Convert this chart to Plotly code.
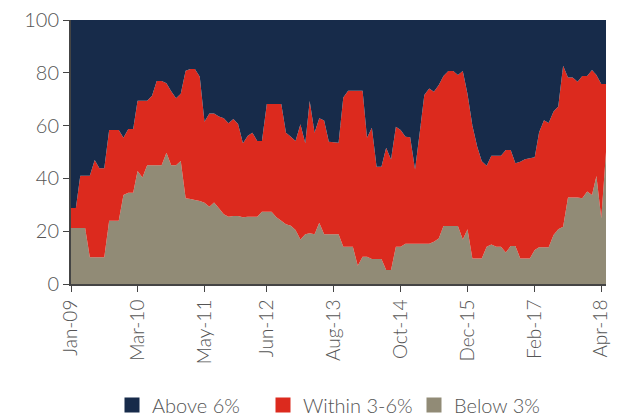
import plotly.graph_objects as go
import pandas as pd

# monthly shares (%), Jan-09 .. May-18
below_3 = [21.2, 21.2, 21.2, 21.2, 10.1, 10.1, 10.1, 10.1, 24, 24, 24, 33.7, 34.6, 34.6, 42.8, 40.3,
           45, 45, 45, 45, 49.7, 45, 45, 46.6, 32.5, 32.2, 31.8, 31.4, 30.8, 29.3, 30.9, 28.7,
           26.4, 25.5, 25.8, 25.8, 25.3, 25.5, 25.5, 25.5, 27.4, 27.4, 27.4, 25.3, 24, 22.6, 22.1, 20.5,
           16.9, 18.8, 19.2, 18.8, 23.2, 18.8, 18.8, 18.8, 18.8, 14.1, 14.1, 14.1, 6.9, 10.3,
           10.3, 9.5, 9.5, 9.5, 5.3, 5.3, 14.1, 14.1, 15.2, 15.2, 15.2, 15.2, 15.2, 15.2, 16, 17.2,
           22, 22, 22, 22, 16.9, 20.7, 9.7, 9.7, 9.7, 14.1, 15, 14.1, 14.1, 11.9, 14.4, 14.4,
           9.7, 9.7, 9.7, 12.9, 13.9, 13.9, 13.9, 18.6, 20.7, 21.7, 32.8, 32.8, 32.8, 32.5, 35, 33.7,
           40.9, 24.9, 50]
within_3_6 = [7.6, 7.6, 19.8, 19.8, 30.9, 36.9, 33.7, 33.7, 34.3, 34.3, 34.3, 21.7, 24.1, 24.1, 26.6, 29.1,
              24.4, 26.3, 31.9, 31.9, 26.3, 28.0, 25.4, 25.5, 48.3, 49.2, 49.6, 47.1, 30.7, 35.3, 33.7, 34.7,
              36.4, 35.4, 36.7, 34.8, 28.0, 30.7, 31.8, 28.7, 26.8, 40.8, 40.8, 42.9, 44.2, 34.7, 33.7, 33.7,
              43.6, 34.5, 50.1, 38.5, 39.6, 43.1, 35.1, 34.9, 34.7, 56.5, 59.1, 59.1, 66.3, 62.9,
              45.1, 49.7, 34.9, 34.9, 46.3, 41.9, 45.5, 44.2, 40.6, 40.4, 28.2, 42.8, 56.4, 58.9, 56.8, 58.2,
              56.8, 58.7, 58.7, 57.2, 63.8, 51.3, 50.3, 42.3, 36.8, 30.7, 33.6, 34.5, 34.5, 38.9, 36.4, 31.3,
              36.6, 37.6, 37.9, 35.1, 43.6, 48.1, 47.1, 46.7, 46.5, 61.0, 45.4, 45.4, 43.8, 46.3, 43.8, 47.4,
              38.3, 50.9, 25.8]
above_6 = [71.2, 71.2, 59, 59, 59, 53, 56.2, 56.2, 41.7, 41.7, 41.7, 44.6, 41.3, 41.3, 30.6, 30.6,
           30.6, 28.7, 23.1, 23.1, 24, 27, 29.6, 27.9, 19.2, 18.6, 18.6, 21.5, 38.5, 35.4, 35.4, 36.6,
           37.2, 39.1, 37.5, 39.4, 46.7, 43.8, 42.7, 45.8, 45.8, 31.8, 31.8, 31.8, 31.8, 42.7, 44.2, 45.8,
           39.5, 46.7, 30.7, 42.7, 37.2, 38.1, 46.1, 46.3, 46.5, 29.4, 26.8, 26.8, 26.8, 26.8,
           44.6, 40.8, 55.6, 55.6, 48.4, 52.8, 40.4, 41.7, 44.2, 44.4, 56.6, 42, 28.4, 25.9, 27.2, 24.6,
           21.2, 19.3, 19.3, 20.8, 19.3, 28, 40, 48, 53.5, 55.2, 51.4, 51.4, 51.4, 49.2, 49.2, 54.3,
           53.7, 52.7, 52.4, 52, 42.5, 38, 39, 34.7, 32.8, 17.3, 21.8, 21.8, 23.4, 21.2, 21.2, 18.9,
           20.8, 24.2, 24.2]

tick_dates = ["2009-01-01", "2010-03-01", "2011-05-01", "2012-06-01", "2013-08-01",
              "2014-10-01", "2015-12-01", "2017-02-01", "2018-04-01"]
tick_labels = ["Jan-09", "Mar-10", "May-11", "Jun-12", "Aug-13", "Oct-14", "Dec-15", "Feb-17", "Apr-18"]

names = ["Below 3%", "Within 3-6%", "Above 6%"]
colors = ["#918B76", "#DC2A1E", "#172B4A"]

dates = pd.date_range("2009-01-01", periods=len(below_3), freq="MS")

fig = go.Figure()
for vals, name, col in zip([below_3, within_3_6, above_6], names, colors):
    fig.add_trace(go.Scatter(x=dates, y=vals, name=name, stackgroup="one", mode="none",
                             fillcolor=col, showlegend=False))

# square legend keys, Above first
for name, col in reversed(list(zip(names, colors))):
    fig.add_trace(go.Scatter(x=[None], y=[None], mode="markers", name=name,
                             marker=dict(symbol="square", size=15, color=col)))

fig.update_layout(
    width=620, height=416,
    margin=dict(l=71, r=14, t=20, b=132, autoexpand=False),
    plot_bgcolor="white", paper_bgcolor="white",
    font=dict(family="Lato", size=19, color="#555555", weight=300),
    legend=dict(orientation="h", traceorder="normal", x=0.5, xanchor="center",
                y=-0.458, yanchor="middle", font=dict(size=20, color="#555555", weight=300),
                itemwidth=30, tracegroupgap=0, entrywidth=106),
)
fig.update_xaxes(
    range=[dates[0], dates[-1]],
    tickvals=tick_dates, ticktext=tick_labels, tickangle=-90,
    ticks="outside", ticklen=6, tickcolor="#444444",
    showline=True, linecolor="#444444", linewidth=2, showgrid=False,
    tickfont=dict(size=19), automargin=False,
)
fig.update_yaxes(
    range=[0, 100], tickvals=[0, 20, 40, 60, 80, 100],
    ticks="outside", ticklen=6, tickcolor="#444444",
    showline=True, linecolor="#444444", linewidth=2,
    showgrid=True, gridcolor="#dddddd", zeroline=False,
    tickfont=dict(size=20), automargin=False,
)

# drop the default 8px body margin so the figure sits at the page corner
fig.write_html("out.html", config={"displayModeBar": False},
               post_script="document.body.style.margin='0';")
